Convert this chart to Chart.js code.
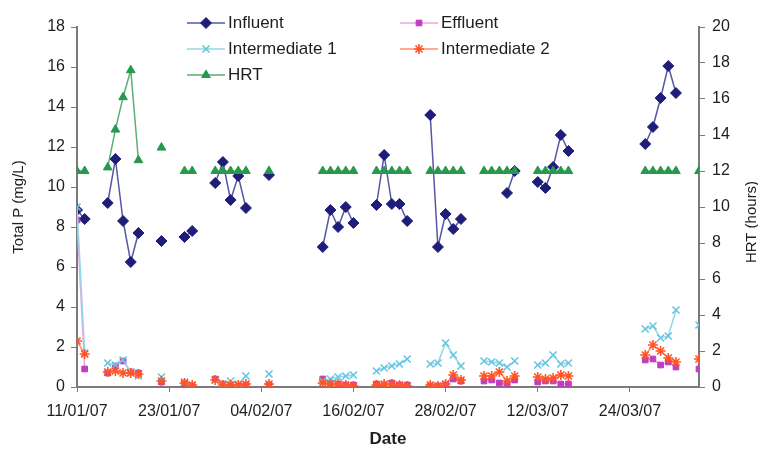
<!DOCTYPE html>
<html>
<head>
<meta charset="utf-8">
<script src="https://cdn.jsdelivr.net/npm/chart.js@4.4.1/dist/chart.umd.min.js"></script>
<style>
  html, body { margin: 0; padding: 0; background: #fff; }
  #wrap { width: 758px; height: 452px; }
</style>
</head>
<body>
<div id="wrap"><canvas id="chart" width="758" height="452"></canvas></div>
<script>
// Days counted from 11/01/07
const xTickDays = [0, 12, 24, 36, 48, 60, 72];
const xTickLabels = ['11/01/07', '23/01/07', '04/02/07', '16/02/07', '28/02/07', '12/03/07', '24/03/07'];

// Influent
const influentDays = [0, 1, 4, 5, 6, 7, 8, 11, 14, 15, 18, 19, 20, 21, 22, 25,
    32, 33, 34, 35, 36, 39, 40, 41, 42, 43, 46, 47, 48, 49, 50,
    56, 57, 60, 61, 62, 63, 64, 74, 75, 76, 77, 78];
const influent = [8.85, 8.4, 9.2, 11.4, 8.3, 6.25, 7.7, 7.3, 7.5, 7.8, 10.2, 11.25, 9.35, 10.55, 8.95, 10.6,
    7.0, 8.85, 8.0, 9.0, 8.2, 9.1, 11.6, 9.15, 9.15, 8.3, 13.6, 7.0, 8.65, 7.9, 8.4,
    9.7, 10.8, 10.25, 9.95, 11.0, 12.6, 11.8, 12.15, 13.0, 14.45, 16.05, 14.7];

// Effluent, Intermediate 1 and 2 share the same sampling days
const lowerDays = [0, 1, 4, 5, 6, 7, 8, 11, 14, 15, 18, 19, 20, 21, 22, 25,
    32, 33, 34, 35, 36, 39, 40, 41, 42, 43, 46, 47, 48, 49, 50,
    53, 54, 55, 56, 57, 60, 61, 62, 63, 64, 74, 75, 76, 77, 78, 81];
const effluent = [8.35, 0.9, 0.7, 1.05, 1.3, 0.75, 0.7, 0.25, 0.2, 0.05, 0.4, 0.15, 0.1, 0.05, 0.1, 0.1,
    0.4, 0.2, 0.15, 0.1, 0.1, 0.15, 0.1, 0.2, 0.1, 0.1, 0.05, 0.05, 0.1, 0.4, 0.3,
    0.3, 0.35, 0.2, 0.15, 0.35, 0.25, 0.3, 0.3, 0.15, 0.15, 1.35, 1.4, 1.1, 1.25, 1.0, 0.9];
const intermediate1 = [9.0, 1.7, 1.2, 1.1, 1.35, 0.75, 0.55, 0.5, 0.25, 0.1, 0.35, 0.15, 0.3, 0.15, 0.55, 0.65,
    0.3, 0.4, 0.5, 0.55, 0.6, 0.8, 0.95, 1.05, 1.15, 1.4, 1.15, 1.2, 2.2, 1.6, 1.05,
    1.3, 1.25, 1.2, 1.0, 1.3, 1.1, 1.2, 1.6, 1.15, 1.2, 2.9, 3.05, 2.45, 2.55, 3.85, 3.1];
const intermediate2 = [2.3, 1.65, 0.75, 0.8, 0.7, 0.7, 0.65, 0.3, 0.2, 0.1, 0.35, 0.1, 0.1, 0.1, 0.15, 0.15,
    0.2, 0.15, 0.15, 0.1, 0.05, 0.1, 0.15, 0.15, 0.1, 0.05, 0.1, 0.05, 0.15, 0.6, 0.35,
    0.55, 0.55, 0.75, 0.3, 0.55, 0.5, 0.4, 0.45, 0.6, 0.55, 1.6, 2.1, 1.8, 1.45, 1.25, 1.4];

// HRT (hours, right axis)
const hrtDays = [0, 1, 4, 5, 6, 7, 8, 11, 14, 15, 18, 19, 20, 21, 22, 25,
    32, 33, 34, 35, 36, 39, 40, 41, 42, 43, 46, 47, 48, 49, 50,
    53, 54, 55, 56, 57, 60, 61, 62, 63, 64, 74, 75, 76, 77, 78, 81];
const hrt = [12, 12, 12.2, 14.3, 16.1, 17.6, 12.6, 13.3, 12, 12, 12, 12, 12, 12, 12, 12,
    12, 12, 12, 12, 12, 12, 12, 12, 12, 12, 12, 12, 12, 12, 12,
    12, 12, 12, 12, 12, 12, 12, 12, 12, 12, 12, 12, 12, 12, 12, 12];

// break the line wherever a day is skipped
function toPoints(days, vals) {
    const pts = [];
    days.forEach((d, i) => {
        if (i > 0 && d - days[i - 1] > 1) pts.push({ x: d - 0.5, y: null });
        pts.push({ x: d, y: vals[i] });
    });
    return pts;
}

const FONT = "'Liberation Sans', Arial, sans-serif";
const TEXT = '#1e1e1e';
const AXIS = '#7a7a7a';

function series(label, days, vals, lineColor, markColor, style, radius, axis, order) {
    return {
        label: label,
        data: toPoints(days, vals),
        borderColor: lineColor,
        backgroundColor: markColor,
        pointBorderColor: markColor,
        pointBackgroundColor: markColor,
        pointStyle: style,
        pointRadius: radius,
        pointBorderWidth: style === 'crossRot' || style === 'star' ? 1.6 : 1,
        borderWidth: 1.5,
        spanGaps: false,
        tension: 0,
        yAxisID: axis,
        order: order
    };
}

const datasets = [
    series('Influent', influentDays, influent, '#5656a6', '#1e1e7a', 'rectRot', 5.5, 'y', 5),
    series('Effluent', lowerDays, effluent, '#e6a6e6', '#c03cc0', 'rect', 4, 'y', 4),
    series('Intermediate 1', lowerDays, intermediate1, '#94d6ea', '#66c6e0', 'crossRot', 5, 'y', 3),
    series('Intermediate 2', lowerDays, intermediate2, '#ff9068', '#ff5424', 'star', 5, 'y', 2),
    series('HRT', hrtDays, hrt, '#5aae76', '#27984c', 'triangle', 5, 'y1', 1)
];

// Two-column legend like the original
const legendPlugin = {
    id: 'twoColLegend',
    afterDraw(chart) {
        const ctx = chart.ctx;
        const slots = [[187, 23], [400, 23], [187, 49], [400, 49], [187, 75]];
        chart.data.datasets.forEach((ds, i) => {
            const [x0, y] = slots[i];
            ctx.save();
            ctx.strokeStyle = ds.borderColor;
            ctx.lineWidth = ds.borderWidth;
            ctx.beginPath();
            ctx.moveTo(x0, y);
            ctx.lineTo(x0 + 38, y);
            ctx.stroke();
            ctx.fillStyle = ds.pointBackgroundColor;
            ctx.strokeStyle = ds.pointBorderColor;
            ctx.lineWidth = ds.pointBorderWidth;
            Chart.helpers.drawPoint(ctx, {
                pointStyle: ds.pointStyle, radius: ds.pointRadius, rotation: 0, borderWidth: ds.pointBorderWidth
            }, x0 + 19, y);
            ctx.fillStyle = TEXT;
            ctx.font = '17px ' + FONT;
            ctx.textBaseline = 'middle';
            ctx.textAlign = 'left';
            ctx.fillText(ds.label, x0 + 41, y);
            ctx.restore();
        });

        // right axis title reads bottom to top
        ctx.save();
        ctx.translate(752, 222);
        ctx.rotate(-Math.PI / 2);
        ctx.fillStyle = TEXT;
        ctx.font = '15px ' + FONT;
        ctx.textAlign = 'center';
        ctx.textBaseline = 'middle';
        ctx.fillText('HRT (hours)', 0, 0);
        ctx.restore();
    }
};

new Chart(document.getElementById('chart'), {
    type: 'line',
    data: { datasets: datasets },
    plugins: [legendPlugin],
    options: {
        responsive: false,
        animation: false,
        layout: { padding: { top: 27, left: 0, right: 0, bottom: 0 } },
        plugins: {
            legend: { display: false },
            tooltip: { enabled: false }
        },
        scales: {
            x: {
                type: 'linear',
                min: 0,
                max: 81,
                afterFit: s => { s.height = 65; },
                afterBuildTicks: s => { s.ticks = xTickDays.map(v => ({ value: v })); },
                grid: { drawOnChartArea: false, drawTicks: true, tickLength: 5, color: AXIS },
                border: { color: AXIS, width: 2 },
                ticks: {
                    color: TEXT,
                    font: { family: FONT, size: 16 },
                    padding: 10,
                    maxRotation: 0,
                    autoSkip: false,
                    callback: v => xTickLabels[xTickDays.indexOf(v)]
                },
                title: {
                    display: true,
                    text: 'Date',
                    color: TEXT,
                    font: { family: FONT, size: 17, weight: 'bold' },
                    padding: { top: 0, bottom: 2 }
                }
            },
            y: {
                position: 'left',
                min: 0,
                max: 18,
                afterFit: s => { s.width = 77; },
                grid: { drawOnChartArea: false, drawTicks: true, tickLength: 6, color: AXIS },
                border: { color: AXIS, width: 2 },
                ticks: { stepSize: 2, color: TEXT, font: { family: FONT, size: 16 }, padding: 6 },
                title: {
                    display: true,
                    text: 'Total P (mg/L)',
                    color: TEXT,
                    font: { family: FONT, size: 15 },
                    padding: { top: 10, bottom: 0 }
                }
            },
            y1: {
                position: 'right',
                min: 0,
                max: 20,
                afterFit: s => { s.width = 59; },
                grid: { drawOnChartArea: false, drawTicks: true, tickLength: 6, color: AXIS },
                border: { color: AXIS, width: 2 },
                ticks: { stepSize: 2, color: TEXT, font: { family: FONT, size: 16 }, padding: 7 }
            }
        }
    }
});
</script>
</body>
</html>
